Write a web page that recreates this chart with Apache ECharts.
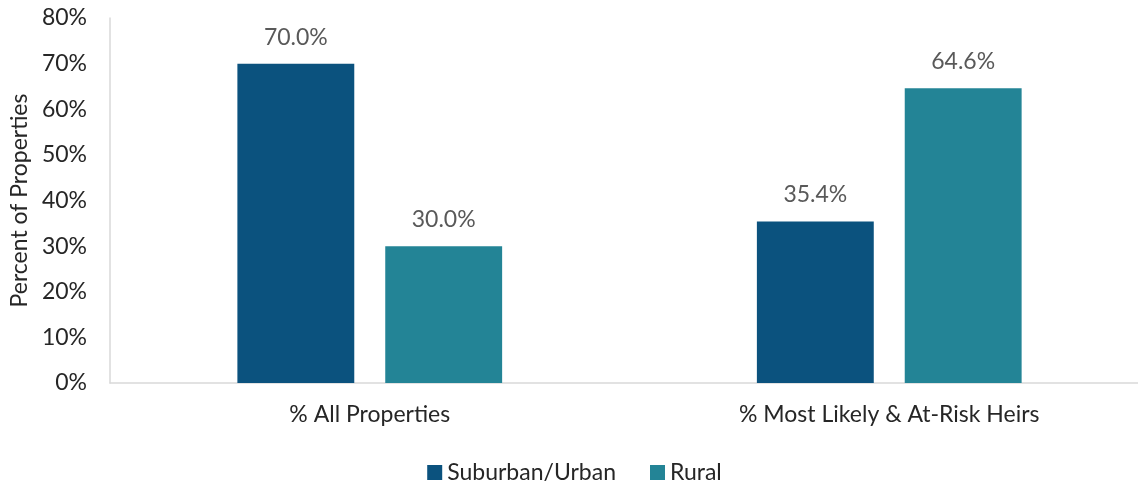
<!DOCTYPE html>
<html><head><meta charset="utf-8">
<script src="https://cdn.jsdelivr.net/npm/echarts@6/dist/echarts.min.js"></script>
<style>html,body{margin:0;padding:0;background:#fff;overflow:hidden}body{width:1138px;height:485px}#c{width:1149px;height:485px}</style>
</head><body><div id="c"></div>
<script>
const categories = ['% All Properties', '% Most Likely & At-Risk Heirs'];
const suburbanUrban = [70.0, 35.4];
const rural = [30.0, 64.6];
const yTicks = [0, 10, 20, 30, 40, 50, 60, 70, 80];

const FONT = 'Lato, "Noto Sans", sans-serif';
const FS = 23;
const chart = echarts.init(document.getElementById('c'));
const lbl = {show: true, position: 'top', distance: 15, color: '#595959', fontSize: FS, fontFamily: FONT,
  formatter: p => p.value.toFixed(1) + '%'};
chart.setOption({
  animation: false,
  textStyle: {fontFamily: FONT},
  grid: {left: 107, right: 0, top: 18, bottom: 102},
  legend: {
    bottom: -4, left: 'center', itemWidth: 15, itemHeight: 15, itemGap: 34,
    icon: 'rect', textStyle: {fontSize: FS, color: '#262626', fontFamily: FONT},
    data: ['Suburban/Urban', 'Rural']
  },
  xAxis: {
    type: 'category', data: categories,
    axisLine: {lineStyle: {color: '#d9d9d9', width: 1.5}},
    axisTick: {show: false},
    axisLabel: {fontSize: FS, color: '#262626', margin: 20, fontFamily: FONT}
  },
  yAxis: {
    type: 'value', min: yTicks[0], max: yTicks[yTicks.length - 1], interval: 10,
    name: 'Percent of Properties', nameLocation: 'middle', nameGap: 76,
    nameTextStyle: {fontSize: FS, color: '#262626', fontFamily: FONT},
    axisLine: {show: true, lineStyle: {color: '#d9d9d9', width: 1.5}},
    axisTick: {show: false},
    splitLine: {show: false},
    axisLabel: {fontSize: FS, color: '#262626', margin: 23, fontFamily: FONT, formatter: v => v + '%'}
  },
  series: [
    {name: 'Suburban/Urban', type: 'bar', data: suburbanUrban, barWidth: '22.5%', barGap: '26.5%',
     itemStyle: {color: '#0b527e'}, label: lbl},
    {name: 'Rural', type: 'bar', data: rural, barWidth: '22.5%',
     itemStyle: {color: '#238496'}, label: lbl}
  ]
});
</script></body></html>
